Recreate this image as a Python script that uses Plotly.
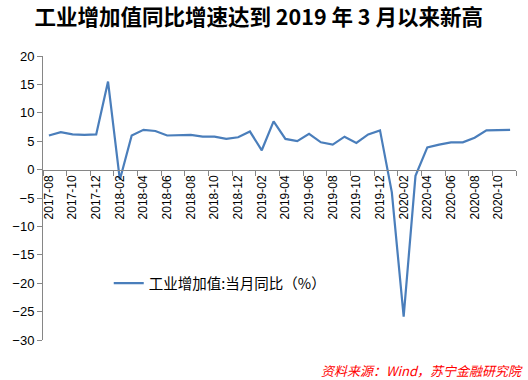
import plotly.graph_objects as go

months = [
    "2017-08", "2017-09", "2017-10", "2017-11", "2017-12",
    "2018-01", "2018-02", "2018-03", "2018-04", "2018-05", "2018-06",
    "2018-07", "2018-08", "2018-09", "2018-10", "2018-11", "2018-12",
    "2019-01", "2019-02", "2019-03", "2019-04", "2019-05", "2019-06",
    "2019-07", "2019-08", "2019-09", "2019-10", "2019-11", "2019-12",
    "2020-01", "2020-02", "2020-03", "2020-04", "2020-05", "2020-06",
    "2020-07", "2020-08", "2020-09", "2020-10", "2020-11",
]
ip_yoy = [
    6.0, 6.6, 6.2, 6.1, 6.2,
    15.5, -1.8, 6.0, 7.0, 6.8, 6.0,
    6.0, 6.1, 5.8, 5.8, 5.4, 5.7,
    6.7, 3.4, 8.5, 5.4, 5.0, 6.3,
    4.8, 4.4, 5.8, 4.7, 6.2, 6.9,
    -4.0, -25.9, -1.1, 3.9, 4.4, 4.8,
    4.8, 5.6, 6.9, 6.9, 7.0,
]
series_name = "工业增加值:当月同比（%）"
title_text = "工业增加值同比增速达到 2019 年 3 月以来新高"
source_text = "资料来源：Wind，苏宁金融研究院"

y_min, y_max = -30, 20

fig = go.Figure()
fig.add_trace(go.Scatter(
    x=months, y=ip_yoy, mode="lines", name=series_name,
    line=dict(color="#4A7EBB", width=2.2),
))

base_font = "Liberation Sans, Noto Sans CJK SC, sans-serif"
axis_col = "#868686"

fig.update_layout(
    width=528, height=380,
    margin=dict(l=41, r=12, t=56, b=40),
    paper_bgcolor="white", plot_bgcolor="white",
    font=dict(family=base_font, size=12, color="black"),
    title=dict(
        text="<b>" + title_text + "</b>",
        x=0.49, xanchor="center", xref="container",
        y=1 - 17.5 / 380, yanchor="middle", yref="container",
        font=dict(family="Noto Sans CJK SC, sans-serif", size=21.5, color="black"),
    ),
    showlegend=True,
    legend=dict(
        x=0.139, xanchor="left", y=0.2, yanchor="middle",
        bgcolor="rgba(0,0,0,0)",
        font=dict(family="Noto Sans CJK SC, sans-serif", size=14.5, color="black"),
    ),
    xaxis=dict(
        type="category",
        range=[-0.5, len(months) - 0.5],
        anchor="free",
        position=(0 - y_min) / (y_max - y_min),
        showline=True, linecolor=axis_col, linewidth=1,
        ticks="outside", ticklen=5, tickcolor=axis_col,
        tickson="boundaries",
        dtick=2, tick0=0,
        tickangle=-90,
        tickfont=dict(size=12, family=base_font),
        showgrid=False, zeroline=False,
    ),
    yaxis=dict(
        range=[y_min, y_max], dtick=5,
        showline=True, linecolor=axis_col, linewidth=1,
        ticks="outside", ticklen=5, tickcolor=axis_col,
        tickfont=dict(size=13, family=base_font),
        showgrid=False, zeroline=False,
    ),
    annotations=[dict(
        text="<i>" + source_text + "</i>",
        xref="paper", yref="paper",
        x=(525 - 41) / 475, xanchor="right",
        y=(340 - 370) / 284, yanchor="middle",
        showarrow=False,
        font=dict(family="Noto Sans CJK SC, sans-serif", size=13, color="#FF0000"),
    )],
)

fig.write_html(
    "out.html",
    config={"displayModeBar": False},
    post_script="document.body.style.margin='0';",
)
